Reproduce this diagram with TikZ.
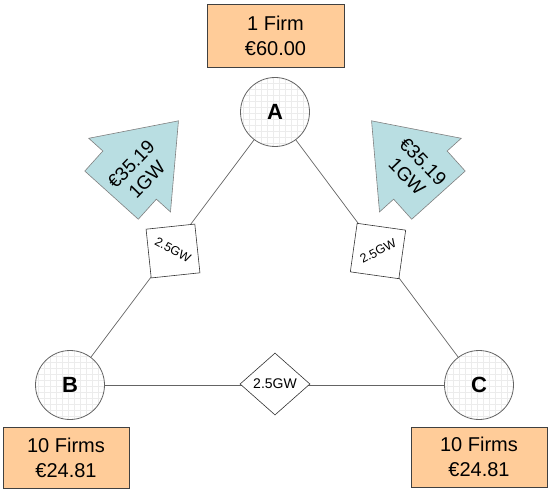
\documentclass[tikz,border=0pt]{standalone}
\usepackage{fontspec}
\setmainfont{Liberation Sans}
\usetikzlibrary{shapes.geometric}
\definecolor{peach}{RGB}{255,204,153}
\definecolor{aqua}{RGB}{185,222,226}
\definecolor{edgegray}{RGB}{100,100,100}
\definecolor{gridcol}{RGB}{236,236,236}
\tikzset{
  bus/.style={circle, draw=edgegray, line width=0.8pt, fill=white, minimum size=69pt, inner sep=0pt,
    font=\fontsize{22}{24}\selectfont\bfseries,
    path picture={\draw[gridcol, line width=0.35pt, step=6pt] ([shift={(-1pt,-1pt)}]path picture bounding box.south west) grid ([shift={(1pt,1pt)}]path picture bounding box.north east);}},
  infobox/.style={rectangle, draw=black!75, line width=0.6pt, fill=peach, inner sep=0pt, align=center,
    font=\fontsize{20}{25}\selectfont},
  linkbox/.style={rectangle, draw=black!80, line width=0.6pt, fill=white, minimum size=49pt, inner sep=0pt},
  linktext/.style={font=\fontsize{12.5}{14}\selectfont, inner sep=0pt},
  line/.style={draw=edgegray, line width=0.7pt},
  flowarrow/.style={draw=black!50, line width=0.6pt, fill=aqua},
  flowtext/.style={align=center, font=\fontsize{19}{22}\selectfont, inner sep=0pt}
}
\begin{document}
\begin{tikzpicture}[x=1pt,y=-1pt]
\useasboundingbox (0,0) rectangle (548,489);
% buses
\node[bus] (A) at (275,112) {A};
\node[bus] (B) at (70,385) {B};
\node[bus] (C) at (479,385) {C};
% lines
\draw[line] (A) -- (B);
\draw[line] (A) -- (C);
\draw[line] (B) -- (C);
% link capacities
\node[linkbox, rotate=6] (sqL) at (173,251) {};
\node[linktext, rotate=-28] (sqLt) at (173,250) {2.5GW};
\node[linkbox, rotate=-8] (sqR) at (378,251) {};
\node[linktext, rotate=28] (sqRt) at (378,251) {2.5GW};
\node[diamond, draw=black!80, line width=0.6pt, fill=white, minimum width=70pt, minimum height=62pt, inner sep=0pt,
  font=\fontsize{14}{16}\selectfont] (dBC) at (275,384) {2.5GW};
% flow arrows
\begin{scope}[shift={(145,158)}, rotate=48]
  \draw[flowarrow] (-50,-36) -- (-23,-36) -- (-23,-55) -- (50,0) -- (-23,55) -- (-23,36) -- (-50,36) -- cycle;
\end{scope}
\node[flowtext, rotate=46] (fL) at (139,172) {€35.19\\1GW};
\begin{scope}[shift={(405,158)}, rotate=132]
  \draw[flowarrow] (-50,-36) -- (-23,-36) -- (-23,-55) -- (50,0) -- (-23,55) -- (-23,36) -- (-50,36) -- cycle;
\end{scope}
\node[flowtext, rotate=-46] (fR) at (415,169) {€35.19\\1GW};
% info boxes
\node[infobox, minimum width=137pt, minimum height=63pt] (iA) at (275.5,35.5) {1 Firm\\€60.00};
\node[infobox, minimum width=126pt, minimum height=61pt] (iB) at (66,457.5) {10 Firms\\€24.81};
\node[infobox, minimum width=136pt, minimum height=60pt] (iC) at (479,457) {10 Firms\\€24.81};
\end{tikzpicture}
\end{document}
